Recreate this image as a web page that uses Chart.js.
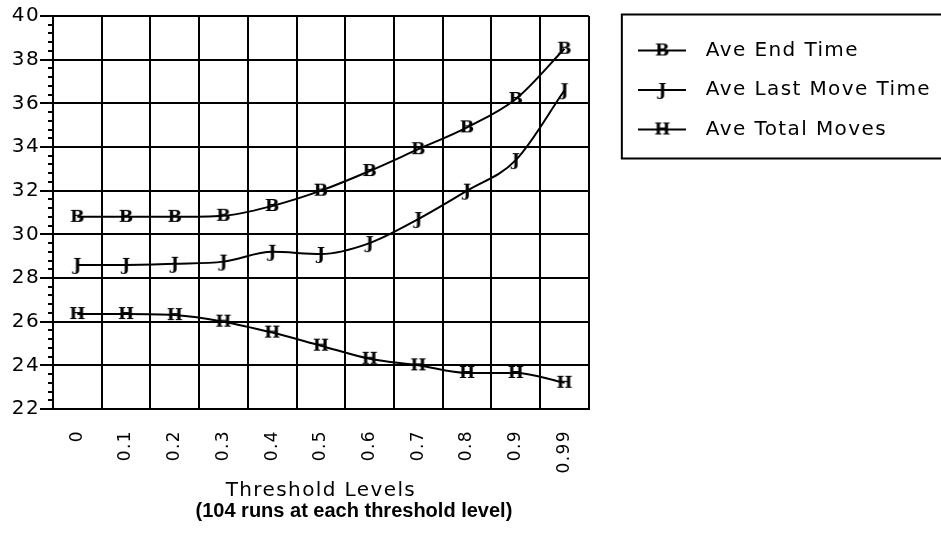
<!DOCTYPE html>
<html>
<head>
<meta charset="utf-8">
<title>Threshold Levels</title>
<script src="https://cdn.jsdelivr.net/npm/chart.js@4.4.1/dist/chart.umd.min.js"></script>
<style>
  html, body { margin: 0; padding: 0; background: #fff; overflow: hidden; }
  #wrap { width: 941px; height: 534px; }
</style>
</head>
<body>
<div id="wrap"><canvas id="lineChart" width="941" height="534"></canvas></div>
<script>
// Chart data
const thresholds = ['0', '0.1', '0.2', '0.3', '0.4', '0.5', '0.6', '0.7', '0.8', '0.9', '0.99'];
const aveEndTime = [30.8, 30.8, 30.8, 30.85, 31.3, 32.0, 32.9, 33.9, 34.9, 36.2, 38.5];
const aveLastMoveTime = [28.6, 28.6, 28.65, 28.75, 29.2, 29.1, 29.6, 30.7, 32.0, 33.4, 36.6];
const aveTotalMoves = [26.35, 26.35, 26.3, 26.0, 25.5, 24.9, 24.3, 24.0, 23.65, 23.65, 23.2];
const seriesNames = ['Ave End Time', 'Ave Last Move Time', 'Ave Total Moves'];
const markerLetters = ['B', 'J', 'H'];
const yTicks = { min: 22, max: 40, major: 2, minor: 0.4 };

// Letter marker drawn on a small canvas (used as pointStyle)
function letterMarker(letter, withLine) {
    const c = document.createElement('canvas');
    c.width = withLine ? 48 : 20;
    c.height = 20;
    const g = c.getContext('2d');
    if (withLine) {
        g.strokeStyle = '#000';
        g.lineWidth = 2;
        g.beginPath();
        g.moveTo(0, 10);
        g.lineTo(48, 10);
        g.stroke();
    }
    g.fillStyle = '#000';
    g.font = 'bold 17px "DejaVu Serif"';
    g.textAlign = 'center';
    g.textBaseline = 'middle';
    g.fillText(letter, c.width / 2, 11);
    return c;
}

const pointIcons = markerLetters.map(l => letterMarker(l, false));
const legendIcons = markerLetters.map(l => letterMarker(l, true));

// Geneva-like wide text
const spacingPlugin = {
    id: 'spacing',
    beforeUpdate(chart) { chart.ctx.letterSpacing = '1.4px'; },
    beforeDraw(chart) { chart.ctx.letterSpacing = '1.4px'; }
};

// Frame round the legend (open at the right edge) and the bold note
const framePlugin = {
    id: 'frame',
    afterDraw(chart) {
        const ctx = chart.ctx;
        const boxes = chart.legend.legendHitBoxes;
        const last = boxes[boxes.length - 1];
        const left = boxes[0].left - 7;
        const top = boxes[0].top - 26;
        const bottom = last.top + last.height + 19;
        ctx.save();
        ctx.strokeStyle = '#000';
        ctx.lineWidth = 2;
        ctx.beginPath();
        ctx.moveTo(chart.width, top);
        ctx.lineTo(left, top);
        ctx.lineTo(left, bottom);
        ctx.lineTo(chart.width, bottom);
        ctx.stroke();

        const area = chart.chartArea;
        ctx.letterSpacing = '0px';
        ctx.fillStyle = '#000';
        ctx.font = 'bold 20px "Liberation Sans"';
        ctx.textAlign = 'center';
        ctx.textBaseline = 'middle';
        ctx.fillText('(104 runs at each threshold level)', (area.left + area.right) / 2 + 33, chart.scales.x.bottom + 8);
        ctx.restore();
    }
};

document.addEventListener('DOMContentLoaded', () => {
    const ctx = document.getElementById('lineChart').getContext('2d');
    const values = [aveEndTime, aveLastMoveTime, aveTotalMoves];

    new Chart(ctx, {
        type: 'line',
        data: {
            labels: thresholds,
            datasets: values.map((v, i) => ({
                label: seriesNames[i],
                data: v,
                borderColor: '#000',
                backgroundColor: '#000',
                borderWidth: 2,
                cubicInterpolationMode: 'monotone',
                pointStyle: pointIcons[i],
                pointRadius: 6
            }))
        },
        options: {
            responsive: false,
            animation: false,
            devicePixelRatio: 1,
            layout: { padding: { top: 0, bottom: 31, left: 0, right: 0 } },
            plugins: {
                tooltip: { enabled: false },
                // empty top title: keeps the plot 16px below the top edge
                title: { display: true, text: '', padding: 0, font: { size: 16, lineHeight: 1 } },
                legend: {
                    position: 'right',
                    align: 'start',
                    maxWidth: 400,
                    // blank legend title only adds room above the entries
                    title: { display: true, text: ' ', padding: { top: 11, bottom: 0 }, font: { size: 10, lineHeight: 1 } },
                    labels: {
                        usePointStyle: true,
                        pointStyleWidth: 67,
                        padding: 19.5,
                        color: '#000',
                        font: { family: '"DejaVu Sans"', size: 20 },
                        generateLabels(chart) {
                            const items = Chart.defaults.plugins.legend.labels.generateLabels(chart);
                            items.forEach((it, i) => { it.pointStyle = legendIcons[i]; });
                            return items;
                        }
                    }
                }
            },
            scales: {
                x: {
                    offset: true,
                    grid: { offset: true, color: '#000', lineWidth: 2, drawTicks: false },
                    border: { color: '#000', width: 2 },
                    ticks: {
                        color: '#000',
                        padding: 21,
                        minRotation: 90,
                        maxRotation: 90,
                        autoSkip: false,
                        font: { family: '"DejaVu Sans"', size: 17 }
                    },
                    title: {
                        display: true,
                        text: 'Threshold Levels',
                        color: '#000',
                        padding: { top: 0, bottom: 0 },
                        font: { family: '"DejaVu Sans"', size: 20 }
                    },
                    afterFit(scale) { scale.height = 94; }
                },
                y: {
                    weight: 1,
                    min: yTicks.min,
                    max: yTicks.max,
                    grid: { color: '#000', lineWidth: 2, tickLength: 13 },
                    border: { color: '#000', width: 2 },
                    ticks: {
                        stepSize: yTicks.major,
                        color: '#000',
                        padding: 0,
                        font: { family: '"DejaVu Sans"', size: 20 }
                    },
                    afterFit(scale) { scale.width = 53; }
                },
                yMinor: {
                    weight: 0,
                    position: 'left',
                    min: yTicks.min,
                    max: yTicks.max,
                    grid: { color: '#000', lineWidth: 2, tickLength: 5, drawOnChartArea: false },
                    border: { display: false },
                    ticks: { stepSize: yTicks.minor, display: false },
                    afterFit(scale) { scale.width = 0; }
                },
                pad: {
                    position: 'right',
                    grid: { display: false },
                    border: { display: false },
                    ticks: { display: false },
                    afterFit(scale) { scale.width = 20.5; }
                }
            }
        },
        plugins: [spacingPlugin, framePlugin]
    });
});
</script>
</body>
</html>
